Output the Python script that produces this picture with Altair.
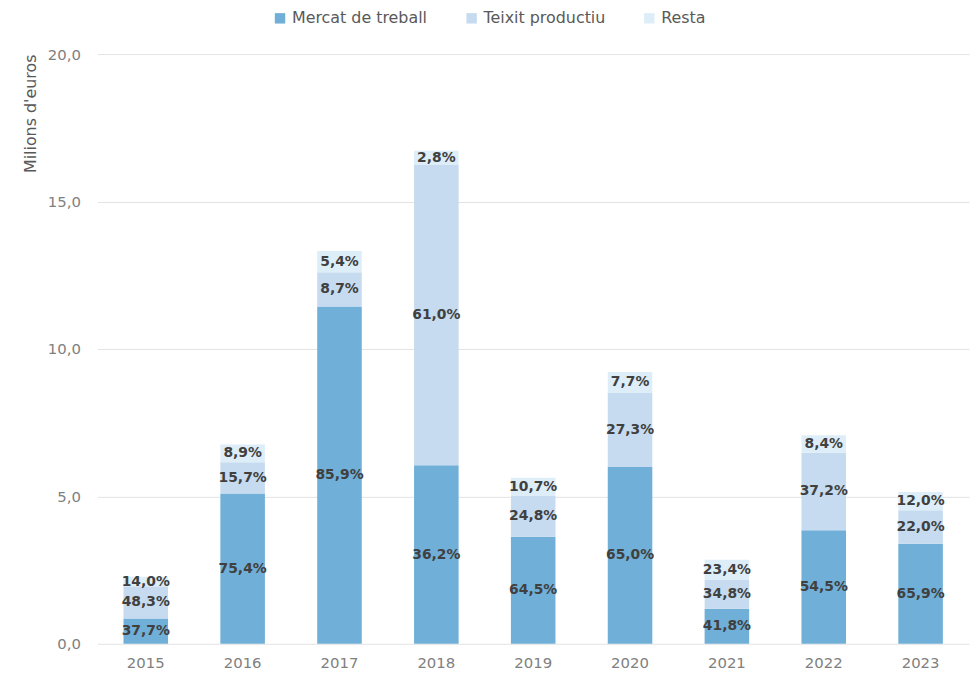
import altair as alt
import pandas as pd

years = ["2015", "2016", "2017", "2018", "2019", "2020", "2021", "2022", "2023"]
totals = [2.27, 6.76, 13.32, 16.72, 5.63, 9.22, 2.85, 7.07, 5.15]
mercat_pct = [37.7, 75.4, 85.9, 36.2, 64.5, 65.0, 41.8, 54.5, 65.9]
teixit_pct = [48.3, 15.7, 8.7, 61.0, 24.8, 27.3, 34.8, 37.2, 22.0]
resta_pct = [14.0, 8.9, 5.4, 2.8, 10.7, 7.7, 23.4, 8.4, 12.0]

series = ["Mercat de treball", "Teixit productiu", "Resta"]
colors = ["#70afd7", "#c6dbef", "#deeef8"]

rows = []
for i, y in enumerate(years):
    start = 0.0
    for k, (name, pcts) in enumerate(zip(series, [mercat_pct, teixit_pct, resta_pct])):
        v = totals[i] * pcts[i] / 100.0
        rows.append({
            "year": y, "serie": name, "order": k,
            "start": start, "end": start + v, "mid": start + v / 2,
            "label": f"{pcts[i]:.1f}".replace(".", ",") + "%",
        })
        start += v
df = pd.DataFrame(rows)

FONT = "DejaVu Sans"

x = alt.X("year:N", title=None, sort=years,
          scale=alt.Scale(paddingInner=0.54, paddingOuter=0.27),
          axis=alt.Axis(labelAngle=0, labelFontSize=15, labelColor="#808080",
                        labelPadding=12, ticks=False, domain=False, grid=False,
                        labelFont=FONT))

bars = alt.Chart(df).mark_bar().encode(
    x=x,
    y=alt.Y("start:Q", title="Milions d'euros",
            scale=alt.Scale(domain=[0, 20], nice=False),
            axis=alt.Axis(values=[0, 5, 10, 15, 20],
                          labelExpr="replace(format(datum.value, '.1f'), '.', ',')",
                          labelFontSize=15, labelColor="#808080", labelPadding=17,
                          ticks=False, domain=False, gridColor="#e3e3e3",
                          titleFontSize=16, titleFontWeight="normal",
                          titleColor="#595959", titleAnchor="end",
                          titlePadding=9, labelFont=FONT, titleFont=FONT)),
    y2="end:Q",
    color=alt.Color("serie:N", sort=series,
                    scale=alt.Scale(domain=series, range=colors),
                    legend=alt.Legend(title=None, orient="none", direction="horizontal",
                                      legendX=176, legendY=-44,
                                      symbolType="square",
                                      symbolSize=110, labelFontSize=16,
                                      labelColor="#595959", labelFont=FONT,
                                      columnPadding=36, symbolOpacity=1)),
)

texts = alt.Chart(df).mark_text(fontSize=14, fontWeight="bold", color="#404040",
                                font=FONT, baseline="middle").encode(
    x=alt.X("year:N", sort=years),
    y=alt.Y("mid:Q"),
    text="label:N",
)

chart = alt.layer(bars, texts).properties(
    width=878, height=594,
    padding={"left": 14, "top": 0, "right": 2, "bottom": 2},
).configure_view(stroke=None)

chart.save("out.html", embed_options={"renderer": "svg", "actions": False})
